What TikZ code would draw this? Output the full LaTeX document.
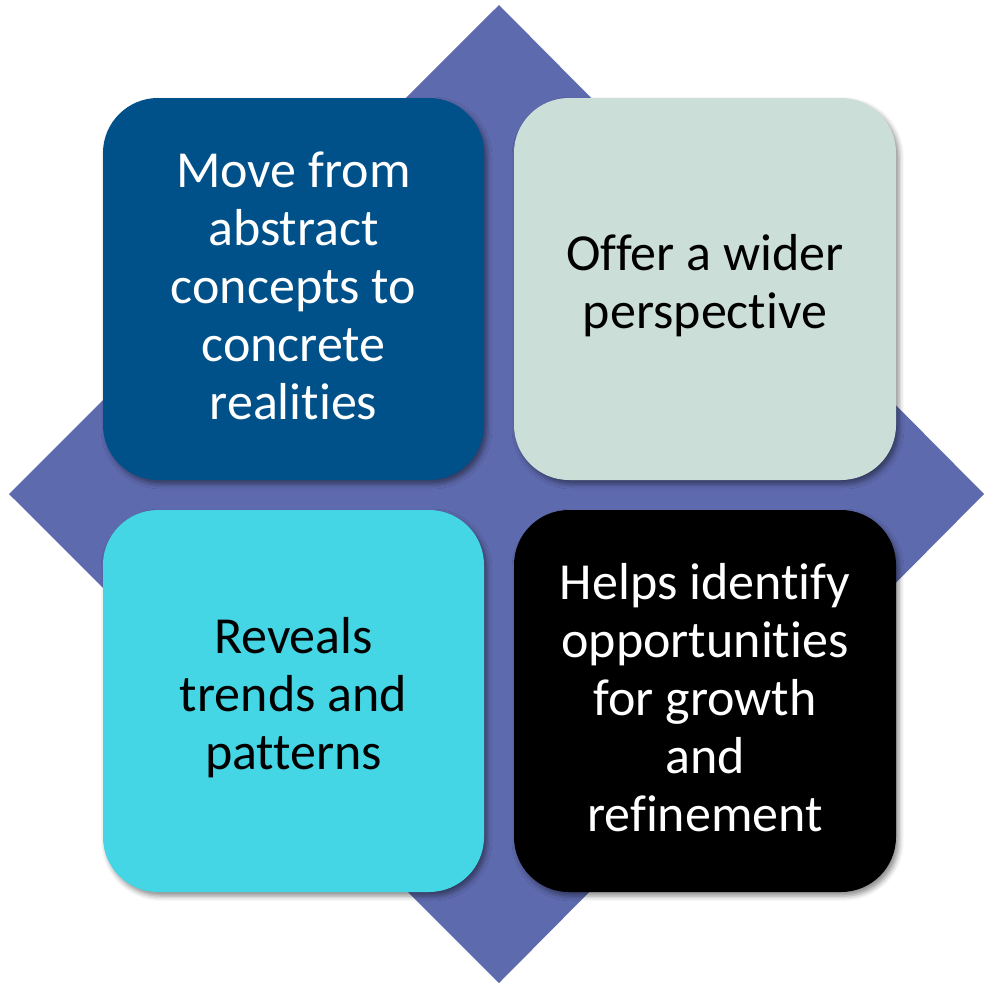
\documentclass[tikz,border=0pt]{standalone}
\usepackage{fontspec}
\setmainfont[Ligatures=NoCommon]{Carlito}
\usetikzlibrary{shadows.blur}
\definecolor{diamondblue}{RGB}{94,106,174}
\definecolor{deepblue}{RGB}{0,81,138}
\definecolor{palegreen}{RGB}{204,222,216}
\definecolor{cyanbox}{RGB}{68,214,228}
\tikzset{
  card/.style={rounded corners=55pt, blur shadow={shadow xshift=3pt, shadow yshift=-4pt, shadow blur radius=5pt, shadow opacity=45}},
  cardtext/.style={align=center, font=\fontsize{52}{58}\selectfont, inner sep=0pt}
}
\begin{document}
\begin{tikzpicture}[x=1pt,y=-1pt]
\useasboundingbox (0,0) rectangle (984,983);
% background diamond
\fill[diamondblue] (499,5) -- (984,494) -- (499,983) -- (9,494) -- cycle;
% four rounded cards
\fill[deepblue, card] (103,98) rectangle (484,480);
\fill[palegreen, card] (514,98) rectangle (896,480);
\fill[cyanbox, card] (103,510) rectangle (484,892);
\fill[black, card] (514,510) rectangle (896,892);
% card texts
\node[cardtext, text=white] (tl) at (293.5,286) {Move from\\abstract\\concepts to\\concrete\\realities};
\node[cardtext, text=black] (tr) at (705,286) {Offer a wider\\perspective};
\node[cardtext, text=black] (bl) at (293.5,698) {Reveals\\trends and\\patterns};
\node[cardtext, text=white] (br) at (705,698) {Helps identify\\opportunities\\for growth\\and\\refinement};
\end{tikzpicture}
\end{document}
